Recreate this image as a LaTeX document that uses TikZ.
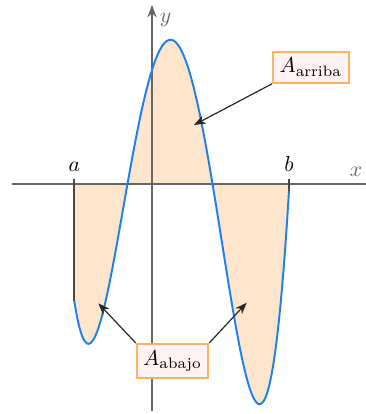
\documentclass[tikz,border=0pt]{standalone}
\usepackage{amsmath,amssymb}
\usepackage{xcolor}
\usetikzlibrary{calc, arrows.meta, positioning}

\definecolor{curveblue}{RGB}{30,128,232}

\begin{document}
\begin{tikzpicture}[x=0.65cm, y=0.65cm,
    declare function={f(\x)=(\x+0.613)*(\x-1.513)*(\x-3.435)*(0.895+0.389*\x-0.0056*\x*\x);},
    every node/.style={font=\normalsize},
    axis/.style={->, >=Stealth, black!60, line width=0.6pt},
    bound/.style={black!72, line width=0.8pt},
    areabox/.style={draw=orange!62, fill=red!5, line width=0.9pt, inner sep=3pt},
    arr/.style={->, >=Stealth, black!85, line width=0.55pt},
  ]
  \useasboundingbox (-3.8,-5.75) rectangle (5.325,4.6);
  \coordinate (a0) at (-1.943,0);
  \coordinate (b0) at (3.425,0);
  \coordinate (ta) at (-1.943,0.12);
  \coordinate (tb) at (3.425,0.12);
  \coordinate (fa) at (-1.943,{f(-1.943)});
  \coordinate (fb) at (3.425,{f(3.425)});

  % area between f and the x axis
  \fill[orange!20] (a0) -- plot[domain=-1.943:3.425, samples=120, smooth] (\x,{f(\x)}) -- (b0) -- cycle;

  % axes
  \coordinate (xs) at (-3.5,0);
  \coordinate (xe) at (5.7,0);
  \coordinate (ys) at (0,-5.675);
  \coordinate (ye) at (0,4.475);
  \draw[axis] (xs) -- (xe) node[above left, xshift=-4.6pt] (xl) {$x$};
  \draw[axis] (ys) -- (ye) node[below right] (yl) {$y$};

  % limits a and b
  \draw[bound] (ta) -- (fa);
  \draw[bound] (tb) -- (fb);
  \node[above] (la) at (ta) {$a$};
  \node[above] (lb) at (tb) {$b$};

  \draw[curveblue, line width=0.9pt] plot[domain=-1.943:3.425, samples=120, smooth] (\x,{f(\x)});

  % labels of the areas
  \node[areabox] (arriba) at (3.97,2.92) {$A_{\text{arriba}}$};
  \node[areabox] (abajo) at (0.5125,-4.425) {$A_{\text{abajo}}$};
  \coordinate (pu) at (1.05,1.475);
  \coordinate (pl) at (-1.342,-2.983);
  \coordinate (pr) at (2.367,-2.967);
  \draw[arr] (arriba.south west) -- (pu);
  \foreach \anc/\pt in {north west/pl, north east/pr}
    \draw[arr] (abajo.\anc) -- (\pt);
\end{tikzpicture}
\end{document}
